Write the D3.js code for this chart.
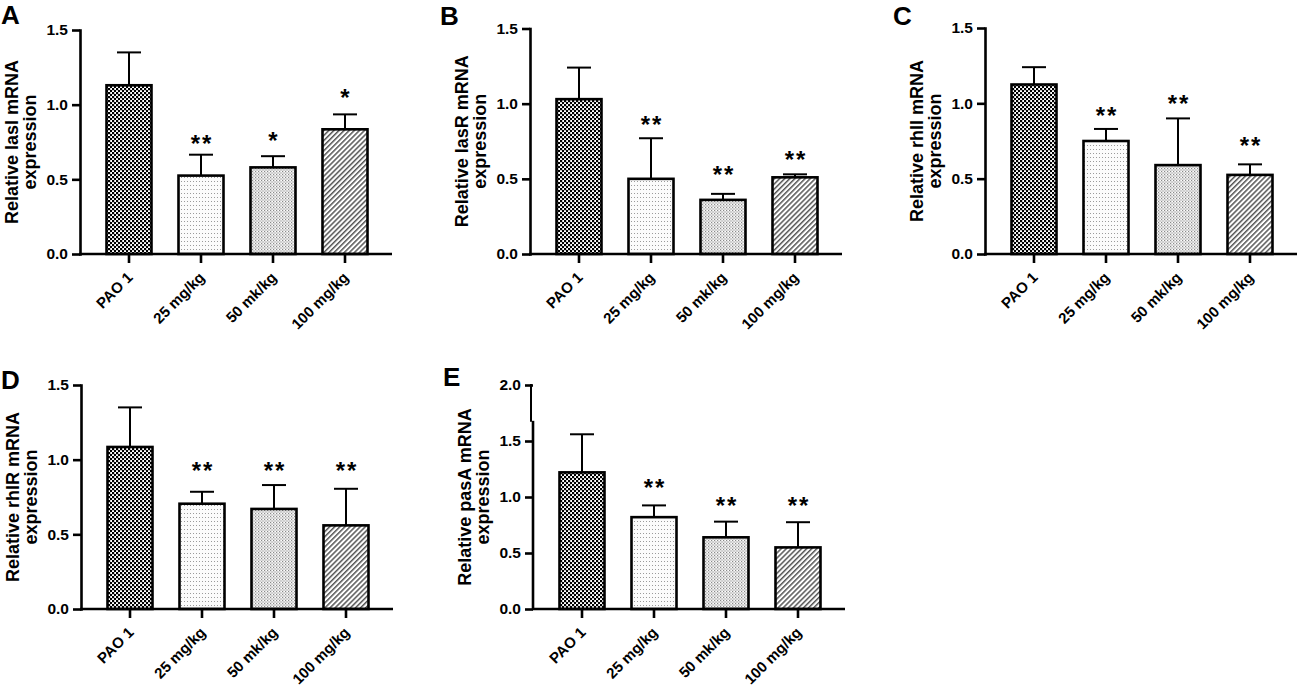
<!DOCTYPE html>
<html>
<head>
<meta charset="utf-8">
<script src="https://cdn.jsdelivr.net/npm/d3@7"></script>
<style>
    body { margin: 0; background: #fff; }
    svg { font-family: "Liberation Sans", Arial, sans-serif; }
</style>
</head>
<body>
<svg id="chart" width="1299" height="689"></svg>
<script>
const groups = ["PAO 1", "25 mg/kg", "50 mk/kg", "100 mg/kg"];

// mean and SD (upper bar only)
const lasI_mean = [1.13, 0.525, 0.58, 0.835];
const lasI_sd = [0.22, 0.14, 0.075, 0.1];
const lasI_stars = ["", "**", "*", "*"];
const lasI_starLevel = [0, 0.78, 0.8, 1.085];

const lasR_mean = [1.03, 0.5, 0.36, 0.51];
const lasR_sd = [0.21, 0.27, 0.04, 0.02];
const lasR_stars = ["", "**", "**", "**"];
const lasR_starLevel = [0, 0.9, 0.57, 0.665];

const rhlI_mean = [1.125, 0.75, 0.59, 0.525];
const rhlI_sd = [0.115, 0.08, 0.31, 0.07];
const rhlI_stars = ["", "**", "**", "**"];
const rhlI_starLevel = [0, 0.957, 1.035, 0.762];

const rhlR_mean = [1.085, 0.705, 0.67, 0.56];
const rhlR_sd = [0.265, 0.08, 0.16, 0.245];
const rhlR_stars = ["", "**", "**", "**"];
const rhlR_starLevel = [0, 0.964, 0.964, 0.964];

const pasA_mean = [1.22, 0.82, 0.64, 0.55];
const pasA_sd = [0.34, 0.105, 0.14, 0.225];
const pasA_stars = ["", "**", "**", "**"];
const pasA_starLevel = [0, 1.137, 0.973, 0.973];

const ticks15 = [0, 0.5, 1.0, 1.5];
const ticks20 = [0, 0.5, 1.0, 1.5, 2.0];

// panel layout (pixel placement only)
const panels = [
    { letter: "A", gene: "lasI", mean: lasI_mean, sd: lasI_sd, stars: lasI_stars, starLevel: lasI_starLevel,
      yMax: 1.5, ticks: ticks15, ox: 80, oy: 254, top: 30, lx: 1, ly: 24 },
    { letter: "B", gene: "lasR", mean: lasR_mean, sd: lasR_sd, stars: lasR_stars, starLevel: lasR_starLevel,
      yMax: 1.5, ticks: ticks15, ox: 530, oy: 254, top: 28.5, lx: 440, ly: 25 },
    { letter: "C", gene: "rhlI", mean: rhlI_mean, sd: rhlI_sd, stars: rhlI_stars, starLevel: rhlI_starLevel,
      yMax: 1.5, ticks: ticks15, ox: 985, oy: 254, top: 28, lx: 893, ly: 25 },
    { letter: "D", gene: "rhlR", mean: rhlR_mean, sd: rhlR_sd, stars: rhlR_stars, starLevel: rhlR_starLevel,
      yMax: 1.5, ticks: ticks15, ox: 81, oy: 609, top: 385, lx: 1, ly: 389 },
    { letter: "E", gene: "pasA", mean: pasA_mean, sd: pasA_sd, stars: pasA_stars, starLevel: pasA_starLevel,
      yMax: 2.0, ticks: ticks20, ox: 533, oy: 609, top: 385, lx: 443, ly: 386, axisBreak: 1.68 },
];

const LW = 2.6;
const STAR_FS = 24;
const svg = d3.select("#chart");
const defs = svg.append("defs");

// Fill patterns, one per group
const makePattern = (id, w, h) =>
    defs.append("pattern")
        .attr("id", id)
        .attr("patternUnits", "userSpaceOnUse")
        .attr("width", w)
        .attr("height", h);

const p0 = makePattern("pat0", 4, 4);
p0.append("rect").attr("width", 4).attr("height", 4).attr("fill", "#fff");
p0.append("rect").attr("width", 2.2).attr("height", 2.2).attr("fill", "#000");
p0.append("rect").attr("x", 2).attr("y", 2).attr("width", 2.2).attr("height", 2.2).attr("fill", "#000");

const p1 = makePattern("pat1", 3, 4);
p1.append("rect").attr("width", 3).attr("height", 4).attr("fill", "#fbfbfb");
p1.append("rect").attr("x", 1).attr("y", 1).attr("width", 1).attr("height", 1).attr("fill", "#9a9a9a");

const p2 = makePattern("pat2", 3, 3);
p2.append("rect").attr("width", 3).attr("height", 3).attr("fill", "#e2e2e2");
p2.append("rect").attr("x", 0).attr("y", 0).attr("width", 1).attr("height", 1).attr("fill", "#8a8a8a");
p2.append("rect").attr("x", 1.5).attr("y", 1.5).attr("width", 1).attr("height", 1).attr("fill", "#a0a0a0");
p2.append("rect").attr("x", 2).attr("y", 0).attr("width", 1).attr("height", 1).attr("fill", "#fff");

const p3 = makePattern("pat3", 3.6, 3.6).attr("patternTransform", "rotate(45)");
p3.append("rect").attr("width", 3.6).attr("height", 3.6).attr("fill", "#fff");
p3.append("rect").attr("width", 1.5).attr("height", 3.6).attr("fill", "#555");

const render = (p) => {
    const g = svg.append("g").attr("class", "panel");

    const x = d3.scaleBand()
        .domain(groups)
        .range([p.ox + 13, p.ox + 301])
        .paddingInner(0.375)
        .paddingOuter(0.1875);

    const y = d3.scaleLinear().domain([0, p.yMax]).range([p.oy, p.top]);

    // error bars (upper only)
    const err = g.append("g").attr("stroke", "#000").attr("stroke-width", 2);
    err.selectAll("line.v")
        .data(groups)
        .join("line")
        .attr("class", "v")
        .attr("x1", (d) => x(d) + x.bandwidth() / 2)
        .attr("x2", (d) => x(d) + x.bandwidth() / 2)
        .attr("y1", (d, i) => y(p.mean[i]))
        .attr("y2", (d, i) => y(p.mean[i] + p.sd[i]));
    err.selectAll("line.cap")
        .data(groups)
        .join("line")
        .attr("class", "cap")
        .attr("x1", (d) => x(d) + x.bandwidth() / 2 - 12)
        .attr("x2", (d) => x(d) + x.bandwidth() / 2 + 12)
        .attr("y1", (d, i) => y(p.mean[i] + p.sd[i]))
        .attr("y2", (d, i) => y(p.mean[i] + p.sd[i]));

    g.selectAll("rect.bar")
        .data(groups)
        .join("rect")
        .attr("class", "bar")
        .attr("x", (d) => x(d))
        .attr("y", (d, i) => y(p.mean[i]))
        .attr("width", x.bandwidth())
        .attr("height", (d, i) => y(0) - y(p.mean[i]))
        .attr("fill", (d, i) => `url(#pat${i})`)
        .attr("stroke", "#000")
        .attr("stroke-width", LW);

    // significance marks
    g.selectAll("text.star")
        .data(groups)
        .join("text")
        .attr("class", "star")
        .attr("x", (d) => x(d) + x.bandwidth() / 2 + 1)
        .attr("y", (d, i) => y(p.starLevel[i]) + STAR_FS * 0.6)
        .attr("text-anchor", "middle")
        .attr("font-size", STAR_FS)
        .attr("font-weight", "bold")
        .attr("letter-spacing", 2)
        .text((d, i) => p.stars[i]);

    // y axis
    const gy = g.append("g")
        .attr("transform", `translate(${p.ox},0)`)
        .call(
            d3.axisLeft(y)
                .tickValues(p.ticks)
                .tickSize(8)
                .tickSizeOuter(0)
                .tickPadding(4)
                .tickFormat(d3.format(".1f"))
        )
        .attr("font-family", null)
        .attr("font-size", 15.5)
        .attr("font-weight", "bold");
    gy.selectAll("line").attr("stroke-width", LW);
    gy.select(".domain").attr("stroke-width", LW).attr("stroke-linecap", "square");
    gy.selectAll("text").attr("fill", "#000");

    if (p.axisBreak) {
        gy.select(".domain").remove();
        gy.append("line")
            .attr("x1", 0).attr("x2", 0)
            .attr("y1", y(0)).attr("y2", y(p.axisBreak))
            .attr("stroke", "#000").attr("stroke-width", LW);
        gy.append("line")
            .attr("x1", -2).attr("x2", -2)
            .attr("y1", y(p.axisBreak) + 1).attr("y2", y(p.yMax) - 1)
            .attr("stroke", "#000").attr("stroke-width", 2);
    }

    // x axis
    const gx = g.append("g")
        .attr("transform", `translate(0,${p.oy})`)
        .call(d3.axisBottom(x).tickSize(9).tickSizeOuter(0))
        .attr("font-family", null)
        .attr("font-size", 15)
        .attr("font-weight", "bold");
    gx.select(".domain").remove();
    gx.append("line")
        .attr("x1", p.ox - 1)
        .attr("x2", p.ox + 312)
        .attr("stroke", "#000")
        .attr("stroke-width", LW);
    gx.selectAll(".tick line").attr("stroke-width", LW);
    gx.selectAll(".tick text")
        .attr("fill", "#000")
        .attr("transform", "rotate(-45)")
        .attr("text-anchor", "end")
        .attr("x", -14)
        .attr("y", 20.5)
        .attr("dy", 0);

    // y title
    const title = g.append("text")
        .attr("transform", `translate(${p.ox},${(p.oy + p.top) / 2}) rotate(-90)`)
        .attr("text-anchor", "middle")
        .attr("font-size", 18)
        .attr("font-weight", "bold");
    title.append("tspan").attr("x", 0).attr("y", -62).text(`Relative ${p.gene} mRNA`);
    title.append("tspan").attr("x", 0).attr("y", -44).text("expression");

    // panel letter
    g.append("text")
        .attr("x", p.lx)
        .attr("y", p.ly)
        .attr("font-size", 26)
        .attr("font-weight", "bold")
        .text(p.letter);
};

panels.forEach((p) => render(p));
</script>
</body>
</html>
